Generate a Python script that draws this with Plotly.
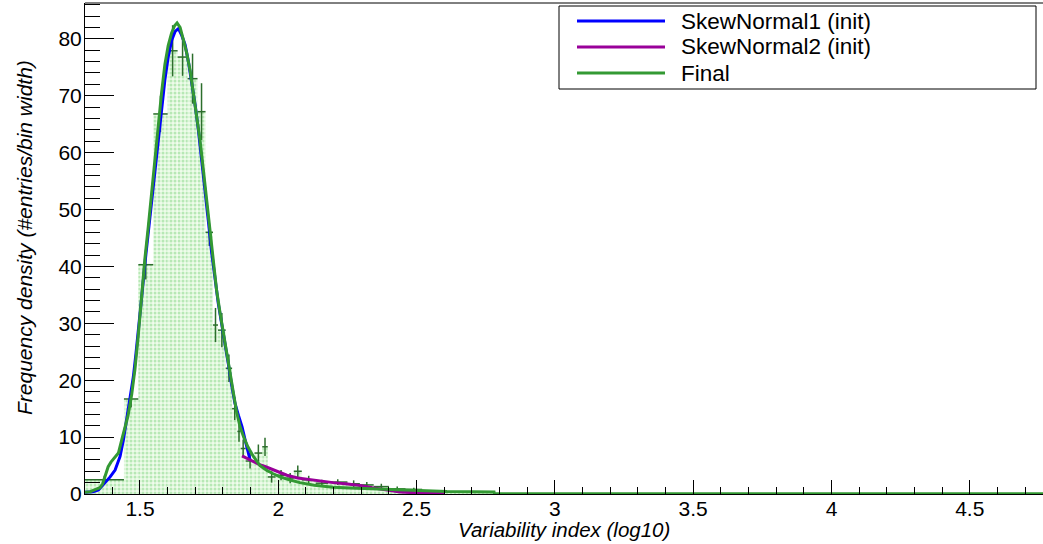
import plotly.graph_objects as go

# Variable-width histogram of the log10 variability index
bin_edges = [1.300, 1.442, 1.494, 1.548, 1.600, 1.636, 1.672, 1.708, 1.737, 1.764,
             1.782, 1.810, 1.833, 1.852, 1.864, 1.882, 1.914, 1.942, 1.962, 1.990,
             2.030, 2.056, 2.085, 2.135, 2.180, 2.250, 2.295, 2.345, 2.400, 2.460,
             2.520, 2.600, 2.780]
density = [2.5, 16.7, 40.3, 66.8, 77.9, 76.8, 73.0, 67.2, 46.0, 29.7,
           28.8, 22.1, 15.0, 11.0, 8.0, 5.8, 7.2, 8.3, 3.0, 3.3,
           2.8, 4.0, 2.5, 1.9, 2.1, 1.8, 1.6, 1.3, 0.9, 0.8,
           0.5, 0.3]
density_err = [0.7, 1.5, 2.6, 3.2, 4.5, 3.3, 4.4, 5.0, 2.4, 3.0,
               3.0, 2.4, 2.0, 1.8, 1.6, 1.3, 1.5, 1.6, 1.0, 0.9,
               0.9, 1.0, 0.7, 0.6, 0.5, 0.6, 0.5, 0.5, 0.4, 0.3,
               0.2, 0.1]

# Initial skew-normal component for the main peak
sn1_x = [1.301, 1.330, 1.350, 1.373, 1.392, 1.410, 1.428, 1.440, 1.452, 1.465,
         1.476, 1.485, 1.494, 1.506, 1.518, 1.530, 1.542, 1.554, 1.566, 1.578,
         1.590, 1.602, 1.615, 1.627, 1.639, 1.651, 1.663, 1.675, 1.687, 1.699,
         1.711, 1.723, 1.735, 1.747, 1.759, 1.771, 1.783, 1.795, 1.807, 1.819,
         1.831, 1.843, 1.856, 1.869, 1.880, 1.890, 1.898]
sn1_y = [0.3, 0.4, 0.7, 1.9, 3.0, 4.2, 6.6, 9.5, 13.0, 17.0,
         20.6, 24.5, 28.3, 34.5, 40.6, 46.0, 51.5, 57.5, 63.0, 68.0,
         72.8, 76.8, 79.8, 81.3, 81.8, 80.6, 79.0, 76.0, 72.5, 68.5,
         64.0, 59.0, 53.5, 48.0, 42.5, 37.8, 33.5, 30.0, 26.8, 23.0,
         19.3, 16.0, 13.8, 11.8, 9.5, 7.7, 6.0]

# Initial skew-normal component for the high tail
sn2_x = [1.869, 1.885, 1.900, 1.930, 1.959, 2.000, 2.031, 2.070, 2.115, 2.160,
         2.198, 2.250, 2.295, 2.340, 2.390, 2.440, 2.500, 2.600]
sn2_y = [6.7, 6.3, 5.9, 5.2, 4.7, 3.9, 3.3, 2.8, 2.5, 2.2,
         2.0, 1.75, 1.5, 1.1, 0.7, 0.35, 0.2, 0.1]

# Final combined fit
fit_x = [1.301, 1.320, 1.340, 1.355, 1.365, 1.375, 1.385, 1.395, 1.408, 1.422,
         1.434, 1.445, 1.457, 1.470, 1.482, 1.494, 1.506, 1.518, 1.530, 1.542,
         1.554, 1.566, 1.578, 1.590, 1.602, 1.614, 1.625, 1.634, 1.645, 1.657,
         1.669, 1.681, 1.693, 1.705, 1.717, 1.729, 1.741, 1.753, 1.765, 1.777,
         1.789, 1.801, 1.813, 1.825, 1.837, 1.849, 1.861, 1.875, 1.890, 1.910,
         1.934, 1.960, 1.980, 2.006, 2.040, 2.078, 2.130, 2.198, 2.260, 2.320,
         2.380, 2.440, 2.520, 2.610, 2.700, 2.780, 2.781, 4.765]
fit_y = [0.3, 0.4, 0.8, 1.1, 1.8, 3.3, 4.8, 5.6, 6.3, 7.2,
         9.5, 11.8, 13.8, 17.5, 22.0, 28.0, 35.5, 41.5, 47.0, 53.0,
         59.5, 65.5, 70.5, 75.5, 78.8, 81.0, 82.3, 82.8, 82.0, 79.8,
         77.5, 74.5, 70.5, 67.0, 62.2, 57.0, 51.5, 45.8, 40.5, 35.8,
         32.0, 28.5, 25.0, 21.5, 17.8, 14.5, 12.0, 10.0, 8.3, 6.6,
         5.0, 4.1, 3.6, 3.0, 2.5, 2.0, 1.55, 1.2, 1.05, 0.95,
         0.8, 0.7, 0.55, 0.45, 0.4, 0.35, 0.05, 0.05]

legend_names = ["SkewNormal1 (init)", "SkewNormal2 (init)", "Final"]
legend_colors = ["#0000ff", "#990099", "#339933"]

X_RANGE = [1.3012, 4.7647]
Y_RANGE = [0, 86.3]

centers = [(a + b) / 2 for a, b in zip(bin_edges[:-1], bin_edges[1:])]
widths = [b - a for a, b in zip(bin_edges[:-1], bin_edges[1:])]
half_widths = [w / 2 for w in widths]

ERR_COLOR = "#2c6e2c"
FONT = "Liberation Sans, Arial, Helvetica, sans-serif"

fig = go.Figure()

fig.add_trace(go.Bar(
    x=centers, y=density, width=widths,
    marker=dict(
        color="#eaf9e6",
        line=dict(width=0),
        pattern=dict(shape=".", fgcolor="#7fd67f", bgcolor="#eefbea",
                     size=4, solidity=0.45),
    ),
    hoverinfo="skip",
))

fig.add_trace(go.Scatter(
    x=centers, y=density, mode="markers",
    marker=dict(size=1, color=ERR_COLOR),
    error_x=dict(type="data", array=half_widths, width=0,
                 color=ERR_COLOR, thickness=1.5),
    error_y=dict(type="data", array=density_err, width=0,
                 color=ERR_COLOR, thickness=1.5),
))

for xs, ys, col in [(sn1_x, sn1_y, legend_colors[0]),
                    (sn2_x, sn2_y, legend_colors[1]),
                    (fit_x, fit_y, legend_colors[2])]:
    fig.add_trace(go.Scatter(x=xs, y=ys, mode="lines",
                             line=dict(color=col, width=3)))

# plot area in pixels: left 85, right 1043, top 3, bottom 494
ML, MT, MB = 85, 3, 50
PW, PH = 1043 - ML, 544 - MT - MB


def px_x(px):
    return (px - ML) / PW


def px_y(py):
    return (544 - MB - py) / PH


shapes = [
    # top frame line
    dict(type="line", xref="paper", yref="paper", x0=0, x1=1, y0=1, y1=1,
         line=dict(color="black", width=1)),
    # legend box
    dict(type="rect", xref="paper", yref="paper",
         x0=px_x(559), x1=px_x(1036), y0=px_y(89), y1=px_y(6),
         line=dict(color="black", width=1), fillcolor="white", layer="above"),
]
annotations = []
for i, (name, col) in enumerate(zip(legend_names, legend_colors)):
    yy = 21 + 26 * i
    shapes.append(dict(type="line", xref="paper", yref="paper",
                       x0=px_x(577), x1=px_x(665), y0=px_y(yy), y1=px_y(yy),
                       line=dict(color=col, width=3), layer="above"))
    annotations.append(dict(xref="paper", yref="paper", x=px_x(679), y=px_y(yy),
                            xanchor="left", yanchor="middle", text=name,
                            showarrow=False,
                            font=dict(family=FONT, size=22.5, color="black")))

annotations.append(dict(xref="paper", yref="paper", x=px_x(564), y=px_y(529),
                        xanchor="center", yanchor="middle",
                        text="<i>Variability index (log10)</i>", showarrow=False,
                        font=dict(family=FONT, size=20.5, color="black")))
annotations.append(dict(xref="paper", yref="paper", x=px_x(24), y=px_y(238),
                        xanchor="center", yanchor="middle", textangle=-90,
                        text="<i>Frequency density (#entries/bin width)</i>",
                        showarrow=False,
                        font=dict(family=FONT, size=21, color="black")))

fig.update_layout(
    width=1043, height=544,
    margin=dict(l=ML, r=0, t=MT, b=MB, pad=0),
    paper_bgcolor="white", plot_bgcolor="white",
    showlegend=False,
    barmode="overlay",
    shapes=shapes,
    annotations=annotations,
    xaxis=dict(
        range=X_RANGE, showgrid=False, zeroline=False,
        showline=True, linecolor="black", linewidth=1,
        ticks="inside", ticklen=14, tickwidth=1, tickcolor="black",
        tick0=1.5, dtick=0.5, ticklabelstandoff=-4,
        minor=dict(ticks="inside", ticklen=7, tickwidth=1, tickcolor="black",
                   dtick=0.1, showgrid=False),
        tickfont=dict(family=FONT, size=21, color="black"),
    ),
    yaxis=dict(
        range=Y_RANGE, showgrid=False, zeroline=False,
        showline=True, linecolor="black", linewidth=1,
        ticks="inside", ticklen=29, tickwidth=1, tickcolor="black",
        tick0=0, dtick=10, ticklabelstandoff=-2,
        minor=dict(ticks="inside", ticklen=15, tickwidth=1, tickcolor="black",
                   dtick=2, showgrid=False),
        tickfont=dict(family=FONT, size=21, color="black"),
    ),
)

fig.write_html("out.html")
